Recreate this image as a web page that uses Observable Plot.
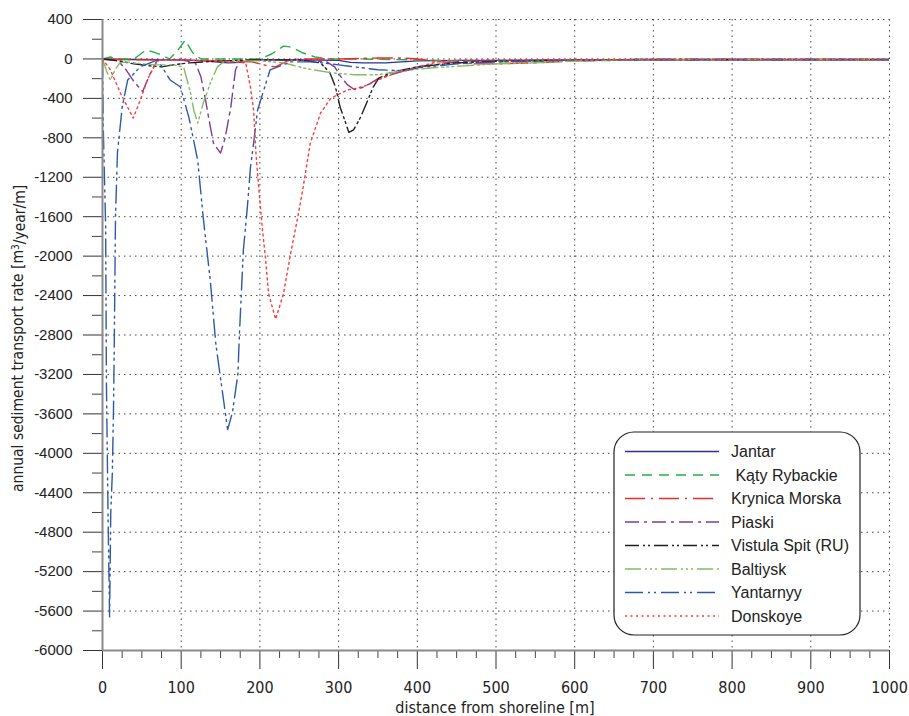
<!DOCTYPE html>
<html>
<head>
<meta charset="utf-8">
<script src="https://cdn.jsdelivr.net/npm/d3@7"></script>
<script src="https://cdn.jsdelivr.net/npm/@observablehq/plot@0.6"></script>
<style>
  html, body { margin: 0; padding: 0; background: #fff; }
  #chart { width: 909px; height: 716px; }
</style>
</head>
<body>
<div id="chart"></div>
<script>
// ---- Data (distance from shoreline [m], transport rate [m3/year/m]) ----
const seriesNames = ["Jantar", "Kąty Rybackie", "Krynica Morska", "Piaski", "Vistula Spit (RU)", "Baltiysk", "Yantarnyy", "Donskoye"];
const legendLabels = ["Jantar", " Kąty Rybackie", "Krynica Morska", "Piaski", "Vistula Spit (RU)", "Baltiysk", "Yantarnyy", "Donskoye"];

const jantarD = [0, 20, 50, 100, 130, 150, 160, 175, 190, 200, 250, 300, 315, 330, 360, 380, 400, 450, 500, 600, 700, 800, 900, 1000];
const jantarV = [0, -5, -5, -10, -20, -35, -40, -35, -15, -10, -10, -15, -35, -40, -40, -30, -20, -15, -15, -10, -10, -8, -8, -8];

const katyD = [0, 10, 20, 40, 55, 65, 75, 85, 95, 105, 115, 125, 150, 200, 215, 230, 240, 255, 270, 290, 320, 400, 500, 600, 700, 800, 1000];
const katyV = [0, 20, 0, 0, 90, 70, 40, 0, 80, 190, 60, 0, 0, 0, 50, 130, 120, 60, 20, 0, 0, -10, -30, -20, -10, -5, -5];

const krynicaD = [0, 50, 100, 150, 190, 200, 210, 220, 235, 250, 300, 350, 380, 400, 430, 470, 500, 550, 600, 700, 1000];
const krynicaV = [0, -10, -10, -20, -30, -50, -70, -80, -20, 0, 0, 10, 10, 0, -30, -50, -50, -40, -20, -5, -5];

const piaskiD = [0, 20, 30, 40, 51, 61, 70, 100, 118, 125, 131, 137, 141, 150, 156, 163, 169, 175, 200, 250, 285, 295, 302, 311, 320, 330, 340, 350, 366, 400, 450, 500, 600, 700, 1000];
const piaskiV = [0, -20, -110, -230, -330, -143, -10, -10, -40, -180, -420, -690, -855, -955, -795, -490, -110, -10, -10, -10, -30, -80, -170, -260, -310, -290, -250, -200, -160, -80, -30, -15, -10, -5, -5];

const vistulaD = [0, 20, 40, 60, 75, 90, 110, 150, 200, 250, 277, 289, 296, 302, 309, 313, 319, 328, 337, 344, 351, 366, 400, 450, 500, 600, 700, 1000];
const vistulaV = [0, -20, -50, -70, -80, -60, -40, -20, -10, -10, -40, -140, -285, -490, -650, -745, -720, -590, -420, -285, -195, -140, -80, -40, -25, -10, -5, -5];

const baltiyskD = [0, 5, 10, 16, 22, 30, 50, 70, 90, 103, 112, 116, 121, 128, 137, 146, 154, 170, 200, 230, 260, 290, 320, 350, 380, 420, 460, 500, 550, 600, 700, 1000];
const baltiyskV = [0, -120, -215, -110, -40, -30, -50, -60, -60, -80, -350, -520, -650, -450, -245, -80, -30, -20, -20, -40, -100, -140, -160, -160, -120, -90, -70, -50, -40, -20, -5, -5];

const yantarnyyD = [0, 1, 4, 5, 7, 9, 10.5, 12.5, 14, 15, 16.5, 19, 25, 32, 48, 70, 86, 99, 110, 121, 128, 137, 144, 150, 159, 165, 172, 174, 179, 184, 188, 192, 197, 213, 239, 270, 300, 350, 385, 400, 450, 500, 600, 700, 1000];
const yantarnyyV = [0, -700, -1700, -3300, -4600, -5660, -4600, -4200, -3540, -2860, -1610, -950, -490, -214, -80, -10, -214, -285, -600, -1030, -1610, -2250, -2890, -3240, -3760, -3590, -3200, -2790, -1940, -1510, -1100, -855, -520, -110, -30, -30, -60, -110, -120, -90, -50, -30, -10, -5, -5];

const donskoyeD = [0, 10, 23, 32, 39, 48, 57, 70, 100, 150, 182, 188, 192, 195, 198, 203, 207, 211, 220, 230, 239, 248, 255, 264, 277, 290, 311, 324, 337, 349, 366, 400, 426, 459, 500, 600, 700, 1000];
const donskoyeV = [0, -110, -350, -490, -600, -420, -210, -10, -10, -20, -40, -285, -520, -960, -1260, -1710, -2015, -2380, -2640, -2380, -1975, -1610, -1300, -855, -550, -400, -315, -295, -265, -215, -163, -80, -30, -10, -10, -5, -5, -5];

const xMajor = [0, 100, 200, 300, 400, 500, 600, 700, 800, 900, 1000];
const yMajor = [400, 0, -400, -800, -1200, -1600, -2000, -2400, -2800, -3200, -3600, -4000, -4400, -4800, -5200, -5600, -6000];

// ---- Styles ----
const seriesStyles = [
  {color: "#2e3192", dash: null},
  {color: "#25b04a", dash: "10,7"},
  {color: "#ee2a24", dash: "20,6,2,6"},
  {color: "#7d3c98", dash: "14,5,3,5"},
  {color: "#231f20", dash: "14,4,2,3,2,4"},
  {color: "#86bb63", dash: "16,4,2,3,2,3,2,4"},
  {color: "#2d5aa8", dash: "18,5,2,4,2,5"},
  {color: "#ff3b3b", dash: "2,3.5"}
];

const allD = [jantarD, katyD, krynicaD, piaskiD, vistulaD, baltiyskD, yantarnyyD, donskoyeD];
const allV = [jantarV, katyV, krynicaV, piaskiV, vistulaV, baltiyskV, yantarnyyV, donskoyeV];

const seriesData = seriesNames.map((name, i) =>
  allD[i].map((d, j) => ({series: name, x: d, y: allV[i][j]}))
);

const xMinor = d3.range(0, 1001, 25).filter(d => d % 100 !== 0);
const yMinor = d3.range(-6000, 401, 200).filter(d => d % 400 !== 0);

const narrow = "'Liberation Sans Narrow', 'Arial Narrow', 'DejaVu Sans Condensed', sans-serif";
const sans = "'Liberation Sans', Arial, Helvetica, sans-serif";

const gridStyle = {stroke: "#333", strokeWidth: 1, strokeDasharray: "1.5,4", strokeOpacity: 0.9};

const lineMarks = seriesData.map((data, i) =>
  Plot.line(data, {
    x: "x", y: "y",
    stroke: seriesStyles[i].color,
    strokeWidth: 1.4,
    strokeDasharray: seriesStyles[i].dash,
    clip: true
  })
);

const chart = Plot.plot({
  width: 909,
  height: 716,
  marginLeft: 102,
  marginRight: 20,
  marginTop: 19,
  marginBottom: 66,
  x: {domain: [0, 1000]},
  y: {domain: [-6000, 400]},
  style: {fontFamily: sans, fontSize: "15px", background: "white", color: "#222"},
  marks: [
    Plot.ruleX(xMajor.filter(d => d > 0), gridStyle),
    Plot.ruleY(yMajor.filter(d => d > -6000), gridStyle),
    Plot.axisY({ticks: yMinor, tickSize: 10, tickFormat: () => "", label: null, stroke: "#444"}),
    Plot.axisY({ticks: yMajor, tickSize: 19, tickPadding: 11, tickFormat: d => String(d), label: null, stroke: "#333", fontSize: 15}),
    Plot.axisX({ticks: xMinor, tickSize: 8, tickFormat: () => "", label: null, stroke: "#444"}),
    Plot.axisX({ticks: xMajor, tickSize: 19, tickPadding: 12, tickFormat: d => String(d), label: null, stroke: "#333", fontSize: 16, fontFamily: narrow}),
    ...lineMarks,
    Plot.ruleX([0], {stroke: "#8a8a8a", strokeWidth: 2}),
    Plot.ruleY([-6000], {stroke: "#8a8a8a", strokeWidth: 2})
  ]
});

document.getElementById("chart").appendChild(chart);

// ---- Axis titles ----
const svg = d3.select(chart);
svg.append("text")
  .attr("x", 495).attr("y", 713)
  .attr("text-anchor", "middle")
  .style("font-family", narrow).style("font-size", "16px").attr("fill", "#222")
  .text("distance from shoreline [m]");

const yt = svg.append("text")
  .attr("transform", "translate(23,492) rotate(-90)")
  .attr("text-anchor", "start")
  .style("text-anchor", "start")
  .style("font-family", narrow).style("font-size", "15.5px").attr("fill", "#222");
yt.append("tspan").text("annual sediment transport rate [m");
yt.append("tspan").attr("dy", "-0.4em").style("font-size", "10px").text("3");
yt.append("tspan").attr("dy", "0.4em").text("/year/m]");

// ---- Legend ----
const lg = svg.append("g").attr("transform", "translate(614,432)");
lg.append("rect")
  .attr("x", 0).attr("y", 0).attr("width", 246).attr("height", 203)
  .attr("rx", 20).attr("ry", 20)
  .attr("fill", "white").attr("stroke", "#222").attr("stroke-width", 1.2);
legendLabels.forEach((label, i) => {
  const y = 19.5 + i * 23.5;
  lg.append("line")
    .attr("x1", 11).attr("x2", 105).attr("y1", y).attr("y2", y)
    .attr("stroke", seriesStyles[i].color)
    .attr("stroke-width", 1.4)
    .attr("stroke-dasharray", seriesStyles[i].dash);
  lg.append("text")
    .attr("x", 117).attr("y", y).attr("dy", "0.36em")
    .attr("text-anchor", "start")
    .style("text-anchor", "start")
    .style("font-family", sans).style("font-size", "16px").attr("fill", "#222")
    .style("white-space", "pre")
    .text(label);
});
</script>
</body>
</html>
